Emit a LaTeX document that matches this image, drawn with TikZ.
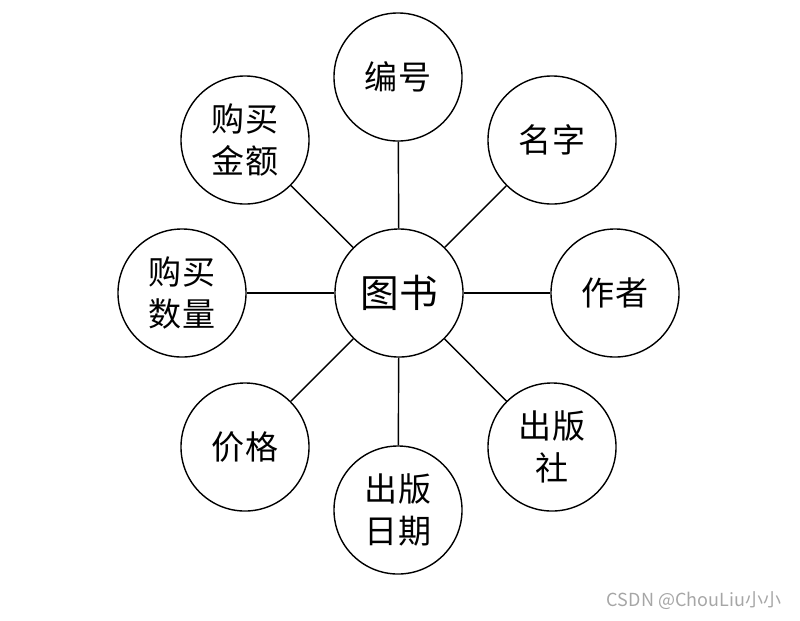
\documentclass[tikz,border=0pt]{standalone}
\usepackage{fontspec}
\setmainfont{Noto Sans CJK SC}
\newfontfamily\wmfont{Noto Sans CJK SC}
\tikzset{
  attr/.style={draw,circle,line width=1pt,minimum size=3.2cm,inner sep=0pt,
    align=center,font=\fontsize{23.5}{30}\selectfont},
  ent/.style={attr,font=\fontsize{27.5}{32}\selectfont},
  link/.style={line width=1pt}
}
\begin{document}
\begin{tikzpicture}[x=0.025cm,y=-0.025cm]
	  \useasboundingbox (0,0) rectangle (800,620);
	  % entity in the middle
	  \node[ent] (book) at (399,293) {图书};
	  % attributes round it
	  \node[attr] (num)  at (398,77)  {编号};
	  \node[attr] (name) at (552,140) {名字};
	  \node[attr] (auth) at (615,293) {作者};
	  \node[attr] (pub)  at (552,447) {出版\\社};
	  \node[attr] (date) at (398,510) {出版\\日期};
	  \node[attr] (price) at (245,447) {价格};
	  \node[attr] (qty)  at (182,293) {购买\\数量};
	  \node[attr] (amt)  at (245,140) {购买\\金额};
	  \foreach \a in {num,name,auth,pub,date,price,qty,amt}
	    \draw[link] (book) -- (\a);
	  \node[text=gray!70,font=\wmfont\fontsize{12.8}{15}\selectfont,anchor=east] (wm) at (786,601) {CSDN @ChouLiu小小};
	\end{tikzpicture}
\end{document}
